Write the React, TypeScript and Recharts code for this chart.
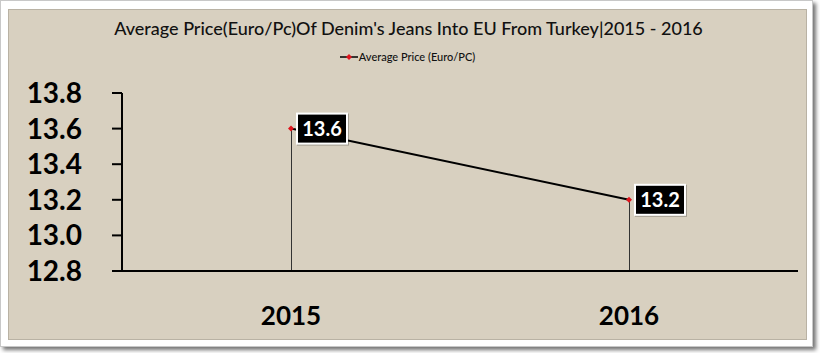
import {
  ComposedChart,
  Line,
  Bar,
  XAxis,
  YAxis,
  Legend,
  LabelList,
} from "recharts";

const years = ["2015", "2016"];
const avgPrice = [13.6, 13.2];
const yTicks = [12.8, 13.0, 13.2, 13.4, 13.6, 13.8];

const data = years.map((year, i) => ({ year, price: avgPrice[i] }));

const FONT = "Lato, 'Open Sans', sans-serif";

const Diamond = (props: any) => {
  const { cx, cy } = props;
  if (cx == null || cy == null) return null;
  return (
    <path
      d={`M${cx},${cy - 3} L${cx + 3},${cy} L${cx},${cy + 3} L${cx - 3},${cy} Z`}
      fill="#e0141c"
    />
  );
};

const PriceLabel = (props: any) => {
  const { x, y, value } = props;
  if (x == null || y == null) return null;
  const w = 52;
  const h = 32;
  const bx = x + 5;
  const by = y - h / 2;
  return (
    <g>
      <rect x={bx + 1} y={by + 1} width={w} height={h} fill="rgba(0,0,0,0.25)" />
      <rect x={bx} y={by} width={w} height={h} fill="#fff" />
      <rect x={bx + 2} y={by + 2} width={w - 4} height={h - 4} fill="#000" />
      <text
        x={bx + w / 2}
        y={y + 7}
        textAnchor="middle"
        fill="#fff"
        fontFamily={FONT}
        fontWeight={700}
        fontSize={20}
      >
        {Number(value).toFixed(1)}
      </text>
    </g>
  );
};

const LegendBox = () => (
  <div
    style={{
      display: "flex",
      justifyContent: "center",
      alignItems: "center",
      fontFamily: FONT,
      fontSize: 11,
      fontWeight: 500,
      color: "#111",
    }}
  >
    <svg width={18} height={8}>
      <line x1={0} y1={4} x2={18} y2={4} stroke="#000" strokeWidth={1.5} />
      <path d="M9,1 L12,4 L9,7 L6,4 Z" fill="#e0141c" />
    </svg>
    <span style={{ marginLeft: 1 }}>Average Price (Euro/PC)</span>
  </div>
);

export default function App() {
  return (
    <div style={{ position: "relative", width: 820, height: 353 }}>
      <style>{`body{margin:0;background:#fff}`}</style>
      <div
        style={{
          position: "absolute",
          left: 0,
          top: 0,
          width: 811,
          height: 345,
          background: "#fff",
          border: "1px solid #c8c8c8",
          boxShadow: "3px 3px 4px rgba(0,0,0,0.55)",
        }}
      />
      <div
        style={{
          position: "absolute",
          left: 8,
          top: 9,
          width: 799,
          height: 331,
          background: "#d8d0c0",
          border: "1px solid #b9b2a4",
          boxSizing: "border-box",
        }}
      >
        <div
          style={{
            position: "absolute",
            left: 0,
            top: 7,
            width: 799,
            textAlign: "center",
            fontFamily: FONT,
            fontSize: 18,
            fontWeight: 500,
            color: "#111",
          }}
        >
          Average Price(Euro/Pc)Of Denim's Jeans Into EU From Turkey|2015 - 2016
        </div>
        <ComposedChart
          width={799}
          height={331}
          data={data}
          margin={{ top: 71, right: 9, bottom: 9, left: 0 }}
          style={{ position: "absolute", left: -1, top: -1 }}
        >
          <Legend
            verticalAlign="top"
            align="center"
            content={<LegendBox />}
            wrapperStyle={{ top: 41, left: 0, width: 799 }}
          />
          <XAxis
            dataKey="year"
            height={60}
            axisLine={{ stroke: "#000", strokeWidth: 2 }}
            tickLine={false}
            tickSize={0}
            tickMargin={36}
            tick={{ fill: "#000", fontFamily: FONT, fontWeight: 700, fontSize: 26 }}
          />
          <YAxis
            width={114}
            domain={[12.8, 13.8]}
            ticks={yTicks}
            tickFormatter={(v: number) => v.toFixed(1)}
            axisLine={{ stroke: "#000", strokeWidth: 2 }}
            tickLine={{ stroke: "#000", strokeWidth: 2 }}
            tickSize={10}
            tickMargin={30}
            interval={0}
            tick={{ fill: "#000", fontFamily: FONT, fontWeight: 700, fontSize: 28 }}
          />
          <Bar dataKey="price" barSize={1} fill="#333" isAnimationActive={false} />
          <Line
            dataKey="price"
            stroke="#000"
            strokeWidth={2}
            dot={<Diamond />}
            activeDot={false}
            isAnimationActive={false}
          >
            <LabelList dataKey="price" content={<PriceLabel />} />
          </Line>
        </ComposedChart>
      </div>
    </div>
  );
}
